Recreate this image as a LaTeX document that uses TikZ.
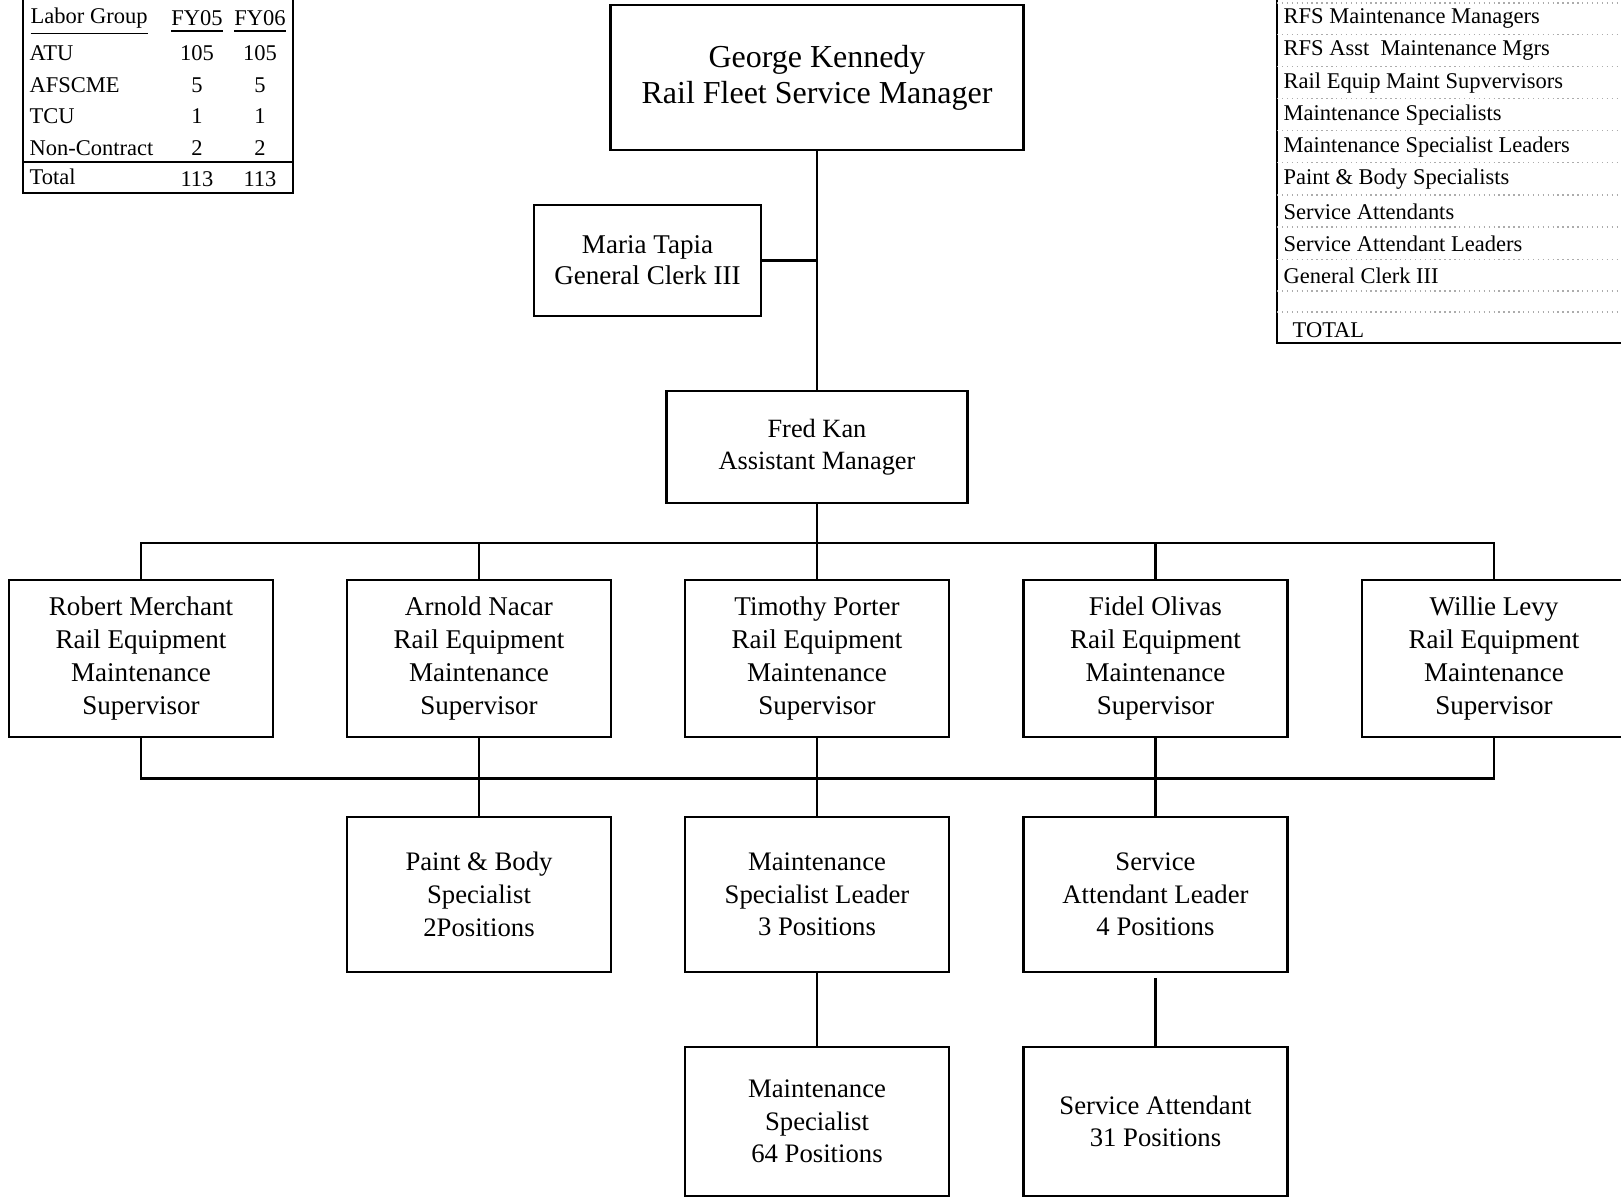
\documentclass[tikz,border=0pt]{standalone}
\usepackage{fontspec}
\setmainfont{Liberation Serif}
\tikzset{
  unit box/.style={draw, line width=0.8pt, inner sep=0, align=center,
                   minimum width=2.64cm, minimum height=1.57cm,
                   font=\fontsize{7.7}{9.4}\selectfont},
  link/.style={line width=0.8pt},
  tbl text/.style={font=\fontsize{6.4}{7.5}\selectfont, inner sep=0},
  tbl rule/.style={rulecol, densely dotted, line width=0.4pt},
}
\colorlet{rulecol}{gray!65}

\begin{document}
\begin{tikzpicture}
        % page = 16.21 x 11.98 cm
        % main column x = 8.17
        % supervisor x-centers: 1.41, 4.79, 8.17, 11.555, 14.94 (about 3.38 apart)
        % row y-centers: boss=11.20, clerk=9.38, asst=7.51, sup=5.40, lead=3.04, staff=0.77
        \useasboundingbox (0,0) rectangle (16.21,11.98);

        % ---- labor group table (top left) ----
        \draw[line width=0.8pt] (0.23,11.98) |- (2.93,10.05) -- (2.93,11.98);
        \draw[line width=0.6pt] (0.23,10.36) -- (2.93,10.36);
        \node[tbl text, anchor=west] (lghead) at (0.30, 11.76) {\underline{Labor Group}};
        \node[tbl text] (fy5head) at (1.97, 11.76) {\underline{FY05}};
        \node[tbl text] (fy6head) at (2.60, 11.76) {\underline{FY06}};
        \foreach \grp/\va/\vb [count=\i from 1] in {ATU/105/105, AFSCME/5/5, TCU/1/1, Non-Contract/2/2} {
          \pgfmathsetmacro{\cy}{11.76 - \i*0.315}
          \node[tbl text, anchor=west] (lg\i) at (0.29, \cy) {\grp};
          \node[tbl text] (fya\i) at (1.97, \cy) {\va};
          \node[tbl text] (fyb\i) at (2.60, \cy) {\vb};
        }
        \node[tbl text, anchor=west] (lgtot) at (0.29, 10.21) {Total};
        \node[tbl text] (fyatot) at (1.97, 10.19) {113};
        \node[tbl text] (fybtot) at (2.60, 10.19) {113};

        % ---- position list (top right, runs off the page) ----
        \draw[line width=0.8pt] (12.77,11.98) |- (16.21,8.55);
        \foreach \ry in {11.95, 11.635, 11.315, 10.995, 10.675, 10.355, 10.03, 9.71, 9.385, 9.07, 8.86} {
          \draw[tbl rule] (12.77,\ry) -- (16.21,\ry);
        }
        \foreach \pos [count=\i from 0] in {RFS Maintenance Managers, RFS Asst\ \ Maintenance Mgrs,
            Rail Equip Maint Supvervisors, Maintenance Specialists, Maintenance Specialist Leaders,
            Paint \& Body Specialists, Service Attendants, Service Attendant Leaders, General Clerk III} {
          \pgfmathsetmacro{\cy}{11.794 - \i*0.3215}
          \node[tbl text, anchor=west] (pos\i) at (12.83, \cy) {\pos};
        }
        \node[tbl text, anchor=west] (postot) at (12.92, 8.68) {TOTAL};

        % ---- managers ----
        \node[unit box, minimum width=4.13cm, minimum height=1.45cm,
              font=\fontsize{9.1}{10.3}\selectfont] (boss) at (8.17, 11.205)
              {George Kennedy\\Rail Fleet Service Manager};
        \node[unit box, minimum width=2.27cm, minimum height=1.11cm,
              font=\fontsize{7.7}{8.8}\selectfont] (clerk) at (6.475, 9.375)
              {Maria Tapia\\General Clerk III};
        \node[unit box, minimum width=3.01cm, minimum height=1.12cm,
              font=\fontsize{7.5}{9.1}\selectfont] (asst) at (8.17, 7.51)
              {Fred Kan\\Assistant Manager};

        % ---- supervisors ----
        \foreach \nm/\cx [count=\i from 1] in {Robert Merchant/1.41, Arnold Nacar/4.79,
            Timothy Porter/8.17, Fidel Olivas/11.555, Willie Levy/14.94} {
          \node[unit box] (sup\i) at (\cx, 5.395) {\nm\\Rail Equipment\\Maintenance\\Supervisor};
        }

        % ---- leaders and staff ----
        \node[unit box, minimum height=1.55cm, font=\fontsize{7.6}{9.3}\selectfont]
              (paint) at (4.79, 3.035) {Paint \& Body\\Specialist\\2Positions};
        \node[unit box, minimum height=1.55cm, font=\fontsize{7.6}{9.3}\selectfont]
              (msl) at (8.17, 3.035) {Maintenance\\Specialist Leader\\3 Positions};
        \node[unit box, minimum height=1.55cm, font=\fontsize{7.6}{9.3}\selectfont]
              (sal) at (11.555, 3.035) {Service\\Attendant Leader\\4 Positions};
        \node[unit box, minimum height=1.49cm, font=\fontsize{7.6}{9.3}\selectfont]
              (ms) at (8.17, 0.765) {Maintenance\\Specialist\\64 Positions};
        \node[unit box, minimum height=1.49cm, font=\fontsize{7.6}{9.3}\selectfont]
              (sa) at (11.555, 0.765) {Service Attendant\\31 Positions};

        % ---- connectors ----
        \coordinate (topbus) at (8.17, 6.55);
        \coordinate (lowbus) at (8.17, 4.195);
        \draw[link] (boss.south) -- (asst.north);
        \draw[link] (clerk.east) -- (clerk.east -| boss.south);
        \draw[link] (asst.south) -- (topbus);
        \draw[link] (sup1.north) |- (topbus) -| (sup5.north);
        \foreach \s in {sup2, sup3, sup4} {
          \draw[link] (\s.north) -- (\s.north |- topbus);
        }
        \draw[link] (sup1.south) |- (lowbus) -| (sup5.south);
        \draw[link] (sup2.south) -- (paint.north);
        \draw[link] (sup3.south) -- (msl.north);
        \draw[link] (sup4.south) -- (sal.north);
        \draw[link] (msl.south) -- (ms.north);
        \draw[link, shorten <=0.05cm] (sal.south) -- (sa.north);
\end{tikzpicture}
\end{document}
